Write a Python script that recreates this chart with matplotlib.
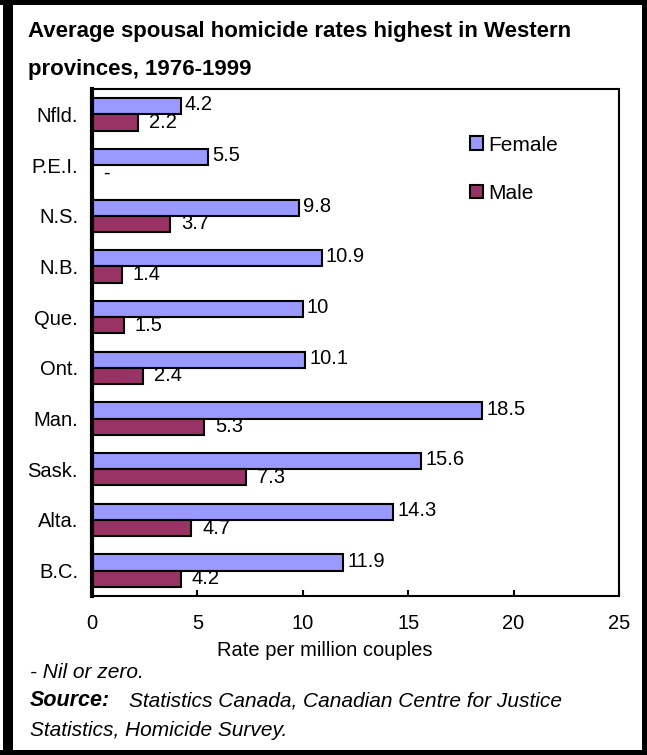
import matplotlib
matplotlib.use("Agg")
import matplotlib.pyplot as plt
from matplotlib.patches import Rectangle
import numpy as np

plt.rcParams['font.family'] = ['Liberation Sans', 'DejaVu Sans']

provinces = ["Nfld.", "P.E.I.", "N.S.", "N.B.", "Que.", "Ont.", "Man.", "Sask.", "Alta.", "B.C."]
female = [4.2, 5.5, 9.8, 10.9, 10.0, 10.1, 18.5, 15.6, 14.3, 11.9]
male = [2.2, 0.0, 3.7, 1.4, 1.5, 2.4, 5.3, 7.3, 4.7, 4.2]
female_labels = ["4.2", "5.5", "9.8", "10.9", "10", "10.1", "18.5", "15.6", "14.3", "11.9"]
male_labels = ["2.2", "-", "3.7", "1.4", "1.5", "2.4", "5.3", "7.3", "4.7", "4.2"]
xticks = [0, 5, 10, 15, 20, 25]

W, H = 647, 755
fig = plt.figure(figsize=(W / 100, H / 100), dpi=100)

ax = fig.add_axes([92 / W, 1 - 596 / H, (619 - 92) / W, (596 - 89) / H])

FS = 14.5
y = np.arange(len(provinces))
bh = 0.32
fem_c = "#9999FF"
male_c = "#993366"
ax.barh(y - bh / 2, female, height=bh, color=fem_c, edgecolor="black", linewidth=1.5, label="Female", zorder=2)
ax.barh(y + bh / 2, male, height=bh, color=male_c, edgecolor="black", linewidth=1.5, label="Male", zorder=2)

for i in range(len(provinces)):
    ax.annotate(female_labels[i], (female[i], y[i] - bh / 2), xytext=(3, 1), textcoords="offset points",
                va="center", ha="left", fontsize=FS)
    ax.annotate(male_labels[i], (male[i], y[i] + bh / 2), xytext=(8, 0), textcoords="offset points",
                va="center", ha="left", fontsize=FS)

ax.set_xlim(0, 25)
ax.set_ylim(len(provinces) - 0.5, -0.5)
ax.set_yticks(y)
ax.set_yticklabels(provinces, fontsize=FS)
ax.tick_params(axis="y", length=0, pad=10)
ax.set_xticks(xticks)
ax.set_xticklabels([str(t) for t in xticks], fontsize=FS)
ax.tick_params(axis="x", direction="in", length=4.5, width=1.5, pad=13)

for s in ["top", "right", "bottom"]:
    ax.spines[s].set_linewidth(1.5)
ax.spines["left"].set_linewidth(3)

leg = ax.legend(loc="upper left", bbox_to_anchor=(0.681, 0.945), frameon=False, fontsize=15,
                handlelength=0.65, handleheight=0.65, handletextpad=0.25, labelspacing=1.4)

fig.text(325 / W, 1 - 650 / H, "Rate per million couples", fontsize=FS, va="center", ha="center")

# Titles and footer
fig.text(28 / W, 1 - 32 / H, "Average spousal homicide rates highest in Western",
         fontsize=16, fontweight="bold", va="center", ha="left")
fig.text(28 / W, 1 - 70 / H, "provinces, 1976-1999",
         fontsize=16, fontweight="bold", va="center", ha="left")
fig.text(30 / W, 1 - 672 / H, "- Nil or zero.", fontsize=15, style="italic", va="center", ha="left")
fig.text(30 / W, 1 - 701 / H, "Source:", fontsize=15.5, style="italic", fontweight="bold", va="center", ha="left")
fig.text(129 / W, 1 - 701 / H, "Statistics Canada, Canadian Centre for Justice",
         fontsize=15, style="italic", va="center", ha="left")
fig.text(30 / W, 1 - 730 / H, "Statistics, Homicide Survey.", fontsize=15, style="italic", va="center", ha="left")

# Outer border
for (x0, y0, w, h) in [(3, 0, 10, H), (0, 0, W, 5), (642, 0, 5, H), (0, 750, W, 5)]:
    fig.patches.append(Rectangle((x0 / W, 1 - (y0 + h) / H), w / W, h / H, transform=fig.transFigure,
                                 facecolor="black", edgecolor="none"))

fig.savefig("out.png", dpi=100)
